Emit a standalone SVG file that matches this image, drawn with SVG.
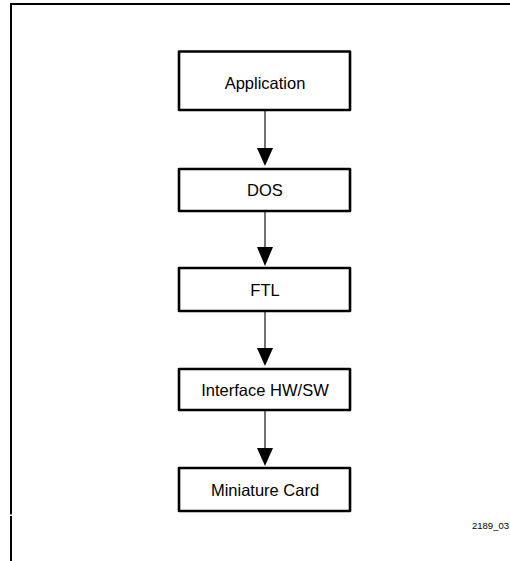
<svg xmlns="http://www.w3.org/2000/svg" width="510" height="561" viewBox="0 0 510 561">
<style>
.box{fill:#fff;stroke:#000;stroke-width:2.6;stroke-linejoin:round}
.lbl{font-family:"Liberation Sans",Arial,sans-serif;font-size:16.5px;fill:#000;text-anchor:middle}
.conn{stroke:#444;stroke-width:1.5;fill:none}
.head{fill:#000}
.frame{stroke:#000;stroke-width:2;fill:none}
.note{font-family:"Liberation Sans",Arial,sans-serif;font-size:9.5px;fill:#000}
</style>
<rect width="510" height="561" fill="#fff"/>
<g id="frame">
<line class="frame" x1="10" y1="4" x2="510" y2="4"/>
<line class="frame" x1="11" y1="3" x2="11" y2="514.5"/>
<line class="frame" x1="11" y1="516" x2="11" y2="561"/>
</g>
<g id="connectors">
<line class="conn" x1="265" y1="111" x2="265" y2="150"/>
<polygon class="head" points="257,148 273,148 265,166"/>
<line class="conn" x1="265" y1="212" x2="265" y2="249"/>
<polygon class="head" points="257,247 273,247 265,266"/>
<line class="conn" x1="265" y1="312" x2="265" y2="350"/>
<polygon class="head" points="257,348 273,348 265,366"/>
<line class="conn" x1="265" y1="411" x2="265" y2="450"/>
<polygon class="head" points="257,448 273,448 265,466"/>
</g>
<g id="application">
<rect class="box" x="179" y="51.5" width="171" height="58.5"/>
<text class="lbl" x="265" y="89">Application</text>
</g>
<g id="dos">
<rect class="box" x="179" y="169" width="171" height="42"/>
<text class="lbl" x="265" y="196">DOS</text>
</g>
<g id="ftl">
<rect class="box" x="179" y="268" width="171" height="43"/>
<text class="lbl" x="265" y="295.5">FTL</text>
</g>
<g id="interface">
<rect class="box" x="179" y="369" width="171" height="41"/>
<text class="lbl" x="265" y="395.5">Interface HW/SW</text>
</g>
<g id="miniature">
<rect class="box" x="179" y="468" width="171" height="43"/>
<text class="lbl" x="265" y="495.5">Miniature Card</text>
</g>
<text class="note" x="472" y="529">2189_03</text>
</svg>
